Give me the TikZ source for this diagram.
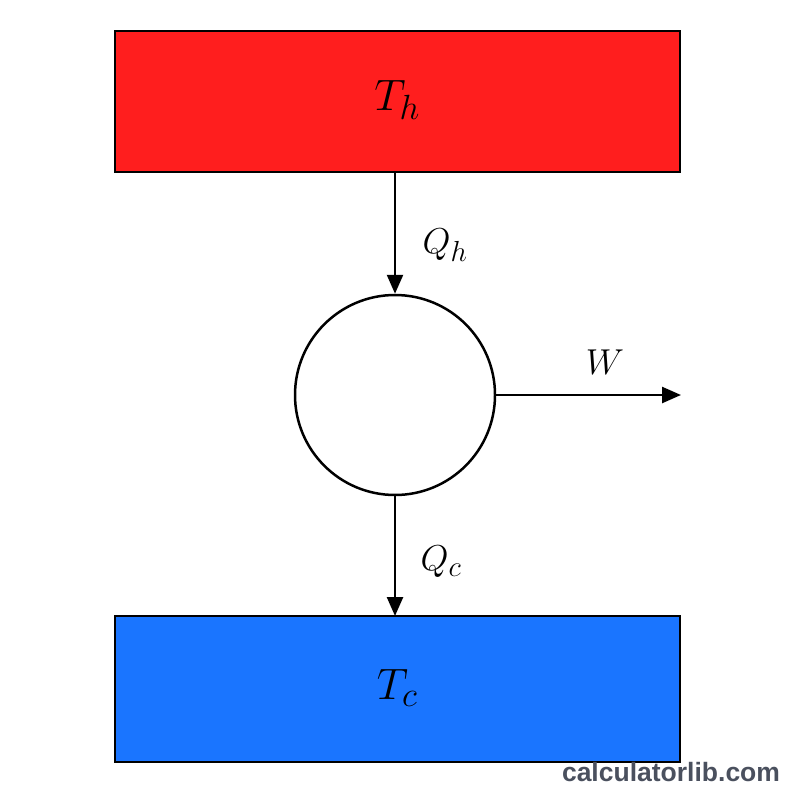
\RequirePackage{fix-cm}
\documentclass[tikz,border=0pt]{standalone}
\usepackage{fontspec}
\usetikzlibrary{arrows.meta}
\DeclareMathSizes{44}{44}{35}{28}
\DeclareMathSizes{36}{36}{29}{23}
\newfontfamily\wmfont{Liberation Sans}
\definecolor{hotred}{RGB}{255,30,30}
\definecolor{coldblue}{RGB}{26,117,255}
\definecolor{wmgray}{RGB}{74,80,94}
\tikzset{
  reservoir/.style={draw=black, line width=2pt, minimum width=565pt, minimum height=141pt, inner sep=0pt},
  engine/.style={draw=black, line width=2.5pt, circle, minimum size=200pt, inner sep=0pt, fill=white},
  flow/.style={line width=2.5pt, -{Triangle[length=19pt,width=16pt]}},
  biglabel/.style={font=\fontsize{44}{50}\selectfont},
  smalllabel/.style={font=\fontsize{36}{40}\selectfont},
}
\begin{document}
\begin{tikzpicture}[x=1pt,y=-1pt]
\useasboundingbox (0,0) rectangle (800,800);
\node[reservoir, fill=hotred] (hot) at (397.5,101.5) {};
\node[reservoir, fill=coldblue, minimum height=146pt] (cold) at (397.5,689) {};
\node[engine] (eng) at (395,395) {};
\node[biglabel] (Th) at (397,100) {$T_h$};
\node[biglabel] (Tc) at (397,688) {$T_c$};
\coordinate (hotout) at (395,172);
\coordinate (coldin) at (395,616);
\coordinate (wend) at (681,395);
\draw[flow] (hotout) -- (eng.north);
\draw[flow] (eng.south) -- (coldin);
\draw[flow] (eng.east) -- (wend);
\node[smalllabel] (Qh) at (445,245) {$Q_h$};
\node[smalllabel] (Qc) at (441,562) {$Q_c$};
\node[smalllabel] (W) at (605,362) {$W$};
\node[font=\wmfont\bfseries\fontsize{26.5}{30}\selectfont, text=wmgray] (wm) at (671,772) {calculatorlib.com};
\end{tikzpicture}
\end{document}
